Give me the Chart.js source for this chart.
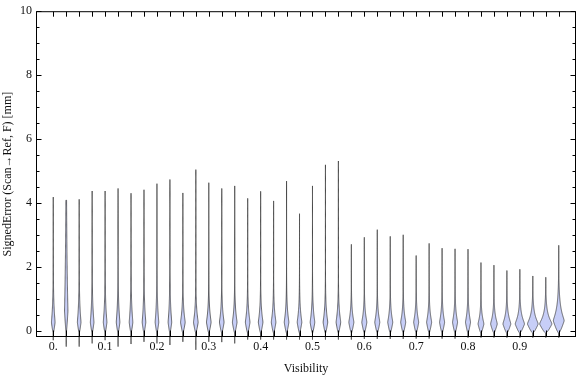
<!DOCTYPE html>
<html><head><meta charset="utf-8">
<script src="https://cdn.jsdelivr.net/npm/chart.js@4.4.0/dist/chart.umd.min.js"></script>
<style>html,body{margin:0;padding:0;background:#fff;}#wrap{width:576px;height:377px;}</style>
</head><body><div id="wrap"><canvas id="c" width="576" height="377"></canvas></div>
<script>
// ---- data ----
const positions = [0.000,0.025,0.050,0.075,0.100,0.125,0.150,0.175,0.200,0.225,
                   0.250,0.275,0.300,0.325,0.350,0.375,0.400,0.425,0.450,0.475,
                   0.500,0.525,0.550,0.575,0.600,0.625,0.650,0.675,0.700,0.725,
                   0.750,0.775,0.800,0.825,0.850,0.875,0.900,0.925,0.950,0.975];
const maxVals   = [4.18,4.08,4.11,4.37,4.37,4.45,4.30,4.41,4.60,4.73,
                   4.31,5.04,4.63,4.45,4.53,4.14,4.36,4.06,4.68,3.66,
                   4.53,5.19,5.31,2.70,2.92,3.16,2.95,3.00,2.35,2.73,
                   2.58,2.56,2.55,2.13,2.05,1.88,1.92,1.71,1.67,2.67];
const minVals   = [-0.30,-0.50,-0.50,-0.40,-0.30,-0.50,-0.42,-0.35,-0.40,-0.45,
                   -0.35,-0.60,-0.35,-0.36,-0.40,-0.28,-0.28,-0.28,-0.28,-0.28,
                   -0.28,-0.28,-0.28,-0.28,-0.26,-0.26,-0.26,-0.26,-0.25,-0.25,
                   -0.25,-0.25,-0.22,-0.22,-0.22,-0.22,-0.22,-0.22,-0.22,-0.22];
// relative peak density of each distribution
const peakDensity = [0.36,0.34,0.36,0.36,0.36,0.36,0.36,0.36,0.36,0.36,
                     0.46,0.46,0.46,0.46,0.46,0.46,0.46,0.46,0.46,0.46,
                     0.46,0.46,0.46,0.50,0.50,0.50,0.50,0.50,0.50,0.50,
                     0.50,0.50,0.50,0.58,0.66,0.78,0.92,1.06,1.22,1.08];
// value where the density peaks
const modeVals = [0.25,0.60,0.25,0.25,0.25,0.25,0.25,0.25,0.25,0.25,
                  0.25,0.25,0.25,0.25,0.25,0.25,0.25,0.25,0.25,0.25,
                  0.25,0.25,0.25,0.25,0.25,0.25,0.25,0.25,0.25,0.25,
                  0.25,0.25,0.25,0.20,0.20,0.20,0.20,0.20,0.20,0.30];
// decay length of the density above the peak
const upperSpread = [0.55,2.20,0.55,0.55,0.55,0.55,0.55,0.55,0.55,0.55,
                     0.40,0.40,0.40,0.40,0.40,0.40,0.40,0.40,0.40,0.40,
                     0.40,0.40,0.40,0.33,0.33,0.33,0.33,0.33,0.33,0.33,
                     0.33,0.33,0.33,0.28,0.28,0.28,0.28,0.28,0.28,0.40];
const xTickValues = [0,0.1,0.2,0.3,0.4,0.5,0.6,0.7,0.8,0.9];
const xTickLabels = ['0.','0.1','0.2','0.3','0.4','0.5','0.6','0.7','0.8','0.9'];
const yTickValues = [0,2,4,6,8,10];
const yTickLabels = ['0','2','4','6','8','10'];
const yMinorStep = 0.5;

// ---- styles ----
const FONT = {family:'"Liberation Serif","Times New Roman",serif', size:12};
const TEXT = '#111';
const FILL = 'rgb(199,206,247)';
const EDGE = 'rgba(55,55,55,0.8)';
const DENSITY_PX = 10;   // full violin width in px for density 1
const TIP = -0.08;

function halfWidth(v, i){
  const W = peakDensity[i]*DENSITY_PX/2, m = modeVals[i], lam = upperSpread[i];
  if (v >= m){
    const d = v - m, s = 0.06;
    return W*Math.exp(-(Math.sqrt(s*s+d*d)-s)/lam);
  }
  if (v <= TIP) return 0;
  const t = (v-TIP)/(m-TIP);
  return W*Math.pow(t,0.75);
}

const violinPlugin = {
  id:'violins',
  afterDatasetsDraw(chart){
    const {ctx, scales:{x,y}} = chart;
    ctx.save();
    for (let i=0;i<positions.length;i++){
      const cx = x.getPixelForValue(positions[i]);
      const lo = minVals[i], hi = maxVals[i];
      const N = 160, vals=[];
      for (let k=0;k<=N;k++) vals.push(lo+(hi-lo)*k/N);
      ctx.beginPath();
      vals.forEach((v,k)=>{const px=cx+halfWidth(v,i), py=y.getPixelForValue(v); k?ctx.lineTo(px,py):ctx.moveTo(px,py);});
      for (let k=N;k>=0;k--){const v=vals[k]; ctx.lineTo(cx-halfWidth(v,i), y.getPixelForValue(v));}
      ctx.closePath();
      ctx.fillStyle = FILL; ctx.fill();
      ctx.strokeStyle = EDGE; ctx.lineWidth = 0.9; ctx.stroke();
    }
    ctx.restore();
  },
  afterDraw(chart){
    const {ctx, scales:{x,y}, chartArea:a} = chart;
    ctx.save();
    ctx.strokeStyle = '#000'; ctx.lineWidth = 1;
    const L = a.left+0.5, R = a.right-0.5, T = a.top+0.5, B = a.bottom-0.5;
    ctx.strokeRect(L, T, R-L, B-T);
    ctx.beginPath();
    positions.forEach(p=>{
      const px = Math.round(x.getPixelForValue(p))+0.5;
      ctx.moveTo(px,B); ctx.lineTo(px,B-6);
      ctx.moveTo(px,T); ctx.lineTo(px,T+5);
    });
    const ymin = 0, ymax = yTickValues[yTickValues.length-1];
    for (let v=ymin; v<=ymax+1e-9; v+=yMinorStep){
      const major = yTickValues.some(t=>Math.abs(t-v)<1e-9);
      const len = major ? 5 : 3;
      const py = Math.round(y.getPixelForValue(v))+0.5;
      ctx.moveTo(L,py); ctx.lineTo(L+len,py);
      ctx.moveTo(R,py); ctx.lineTo(R-len,py);
    }
    ctx.stroke();
    ctx.restore();
  }
};

new Chart(document.getElementById('c'), {
  type:'scatter',
  data:{datasets:[{data:positions.map((p,i)=>({x:p,y:maxVals[i]})), pointRadius:0, showLine:false}]},
  options:{
    responsive:false, animation:false,
    layout:{padding:{top:10,right:0,bottom:0,left:0}},
    plugins:{legend:{display:false}, tooltip:{enabled:false}},
    scales:{
      x:{type:'linear', min:-0.0333, max:1.0083,
         afterFit(s){s.height=40;},
         afterBuildTicks(s){s.ticks = xTickValues.map(v=>({value:v}));},
         ticks:{callback:(v,i)=>xTickLabels[i], font:FONT, color:TEXT, padding:3, maxRotation:0, autoSkip:false},
         grid:{display:false, drawTicks:false}, border:{display:false},
         title:{display:true, text:'Visibility', font:FONT, color:TEXT, padding:{top:0,bottom:1}}},
      y:{type:'linear', min:-0.2, max:10,
         afterFit(s){s.width=36;},
         afterBuildTicks(s){s.ticks = yTickValues.map(v=>({value:v}));},
         ticks:{callback:(v,i)=>yTickLabels[i], font:FONT, color:TEXT, padding:4},
         grid:{display:false, drawTicks:false}, border:{display:false},
         title:{display:true, text:'SignedError (Scan\u2192Ref, F) [mm]', font:FONT, color:TEXT, padding:{top:1,bottom:0}}}
    }
  },
  plugins:[violinPlugin]
});
</script>
</body></html>
